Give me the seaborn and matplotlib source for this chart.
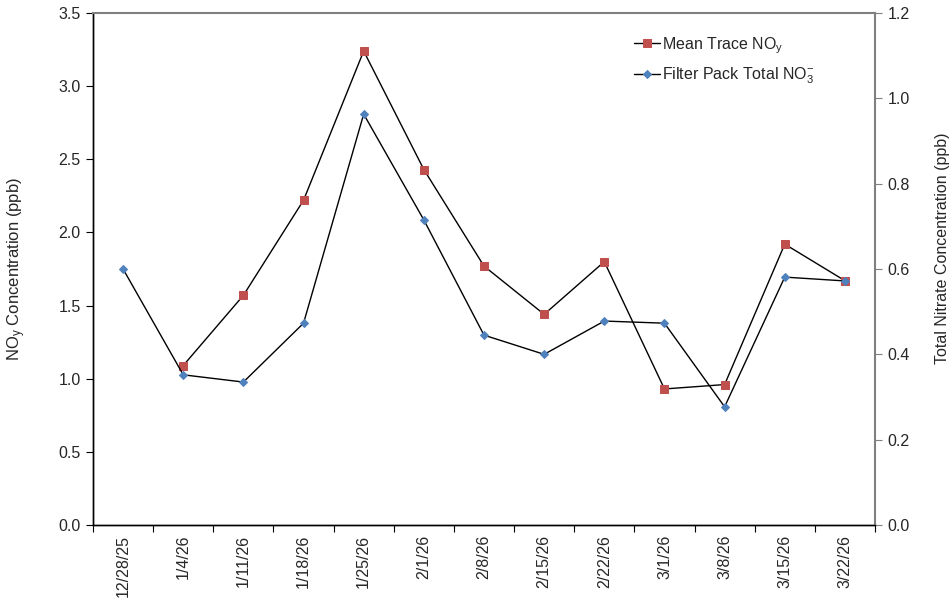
import numpy as np
import pandas as pd
import matplotlib
matplotlib.use("Agg")
import matplotlib.pyplot as plt
import seaborn as sns
from matplotlib.ticker import FixedLocator, MultipleLocator, FormatStrFormatter

dates = ["12/28/25", "1/4/26", "1/11/26", "1/18/26", "1/25/26", "2/1/26", "2/8/26",
         "2/15/26", "2/22/26", "3/1/26", "3/8/26", "3/15/26", "3/22/26"]
noy = [np.nan, 1.09, 1.57, 2.22, 3.24, 2.43, 1.77, 1.44, 1.80, 0.93, 0.96, 1.92, 1.67]
nitrate = [0.60, 0.352, 0.335, 0.473, 0.963, 0.715, 0.445, 0.40, 0.478, 0.473, 0.277, 0.581, 0.572]

sns.set_theme(style="white")
plt.rcParams['font.family'] = ['Liberation Sans', 'DejaVu Sans']
plt.rcParams['mathtext.fontset'] = 'custom'
plt.rcParams['mathtext.rm'] = 'Liberation Sans'
plt.rcParams['mathtext.it'] = 'Liberation Sans'

FS = 11.5
df = pd.DataFrame({"idx": np.arange(len(dates)), "noy": noy, "nitrate": nitrate})

fig = plt.figure(figsize=(9.52, 6.0), dpi=100)
ax = fig.add_axes([93/952, 75/600, (875-93)/952, (525-13)/600])
ax2 = ax.twinx()

sns.lineplot(data=df, x="idx", y="noy", ax=ax, color="black", linewidth=1.0,
             marker="s", markersize=5.5, markerfacecolor="#C0504D", markeredgecolor="#C0504D",
             label=r"Mean Trace NO$_\mathregular{y}$", legend=False)
sns.lineplot(data=df, x="idx", y="nitrate", ax=ax2, color="black", linewidth=1.0,
             marker="D", markersize=4, markerfacecolor="#4F81BD", markeredgecolor="#4F81BD",
             label=r"Filter Pack Total NO$_\mathregular{3}^{\mathregular{-}}$", legend=False)

ax.set_xlim(-0.5, len(dates) - 0.5)
ax.set_ylim(0, 3.5)
ax2.set_ylim(0, 1.2)

ax.xaxis.set_major_locator(FixedLocator(np.arange(len(dates))))
ax.set_xticklabels(dates, rotation=90, va="top", ha="center")
ax.xaxis.set_minor_locator(FixedLocator(np.arange(-0.5, len(dates), 1.0)))
ax.tick_params(axis="x", which="major", length=0, pad=7, labelsize=FS)
ax.tick_params(axis="x", which="minor", length=5, width=0.8, color="black", direction="out", bottom=True)

ax.yaxis.set_major_locator(MultipleLocator(0.5))
ax.yaxis.set_major_formatter(FormatStrFormatter("%.1f"))
ax.tick_params(axis="y", length=5, width=0.8, color="black", direction="out", left=True, labelsize=FS, pad=4)
ax2.yaxis.set_major_locator(MultipleLocator(0.2))
ax2.yaxis.set_major_formatter(FormatStrFormatter("%.1f"))
ax2.tick_params(axis="y", length=5, width=0.8, color="#808080", direction="out", right=True, labelsize=FS, pad=4)

ax.set_xlabel("")
ax.set_ylabel(r"NO$_\mathregular{y}$ Concentration (ppb)", fontsize=12)
ax.yaxis.set_label_coords(-0.083, 0.5)
ax2.set_ylabel("Total Nitrate Concentration (ppb)", fontsize=FS)
ax2.yaxis.set_label_coords(1.077, 0.54)

for a in (ax, ax2):
    for s in a.spines.values():
        s.set_linewidth(1.0)
ax.spines["left"].set_color("black")
ax.spines["bottom"].set_color("black")
ax2.spines["left"].set_color("black")
ax2.spines["bottom"].set_color("black")
ax2.spines["right"].set_color("#808080")
ax2.spines["right"].set_linewidth(1.5)
ax2.spines["top"].set_color("#808080")
ax2.spines["top"].set_linewidth(1.5)
ax.spines["top"].set_visible(False)
ax.spines["right"].set_visible(False)

h1, l1 = ax.get_legend_handles_labels()
h2, l2 = ax2.get_legend_handles_labels()
ax2.legend(h1 + h2, l1 + l2, loc="upper left", bbox_to_anchor=(0.674, 0.985),
           frameon=False, fontsize=FS, handlelength=1.6, handletextpad=0.15, labelspacing=0.6)

fig.savefig("out.png", dpi=100)
